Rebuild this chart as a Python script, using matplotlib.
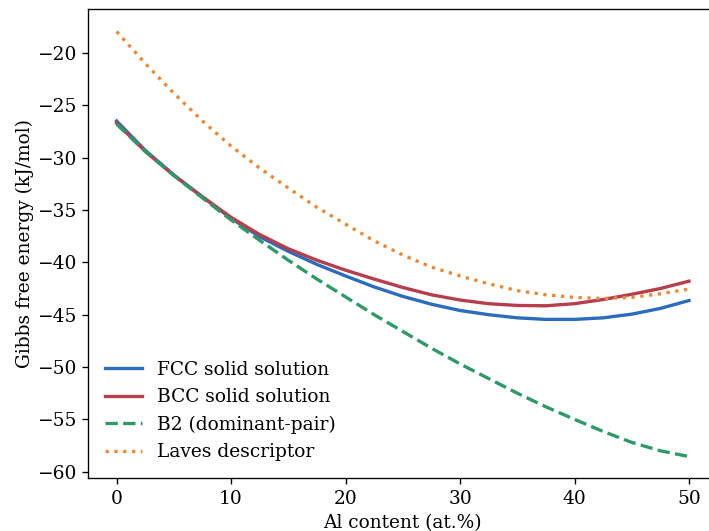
import matplotlib
matplotlib.use("Agg")
import matplotlib.pyplot as plt

# Gibbs free energy vs Al content
al = [0, 2.5, 5, 7.5, 10, 12.5, 15, 17.5, 20, 22.5, 25, 27.5, 30, 32.5, 35,
      37.5, 40, 42.5, 45, 47.5, 50]
g_fcc = [-26.5, -29.3, -31.65, -33.75, -35.8, -37.55, -38.95, -40.2, -41.3,
         -42.35, -43.25, -44.0, -44.6, -45.0, -45.3, -45.45, -45.45, -45.3,
         -44.95, -44.4, -43.65]
g_bcc = [-26.7, -29.4, -31.7, -33.75, -35.7, -37.35, -38.7, -39.8, -40.75,
         -41.6, -42.4, -43.1, -43.6, -43.95, -44.12, -44.15, -43.95, -43.55,
         -43.05, -42.5, -41.8]
g_b2 = [-26.8, -29.4, -31.7, -33.85, -35.95, -37.9, -39.8, -41.6, -43.3,
        -45.0, -46.6, -48.2, -49.7, -51.1, -52.5, -53.8, -55.0, -56.15, -57.2,
        -58.0, -58.55]
g_laves = [-17.95, -21.0, -23.85, -26.5, -28.9, -31.0, -32.9, -34.75, -36.35,
           -37.95, -39.3, -40.45, -41.3, -42.05, -42.7, -43.1, -43.35, -43.45,
           -43.35, -43.0, -42.55]

plt.rcParams['font.family'] = 'DejaVu Serif'
plt.rcParams['font.size'] = 11.2

fig = plt.figure(figsize=(709 / 120, 531 / 120), dpi=120)
ax = fig.add_axes([88 / 709, 1 - 478 / 531, (717.6 - 88) / 709, (478 - 9) / 531])

ax.plot(al, g_fcc, color='#2b6cbd', lw=2, label='FCC solid solution')
ax.plot(al, g_bcc, color='#b73e4c', lw=2, label='BCC solid solution')
ax.plot(al, g_b2, color='#2f9a68', lw=2, ls='--', label='B2 (dominant-pair)')
ax.plot(al, g_laves, color='#ea8a38', lw=2, ls=':', label='Laves descriptor')

ax.set_xlim(-2.5, 52.5)
ax.set_ylim(-60.6, -15.8)
ax.set_xlabel('Al content (at.%)')
ax.set_ylabel('Gibbs free energy (kJ/mol)', labelpad=2)
ax.legend(loc='lower left', frameon=False)

fig.savefig('out.png', dpi=120)
